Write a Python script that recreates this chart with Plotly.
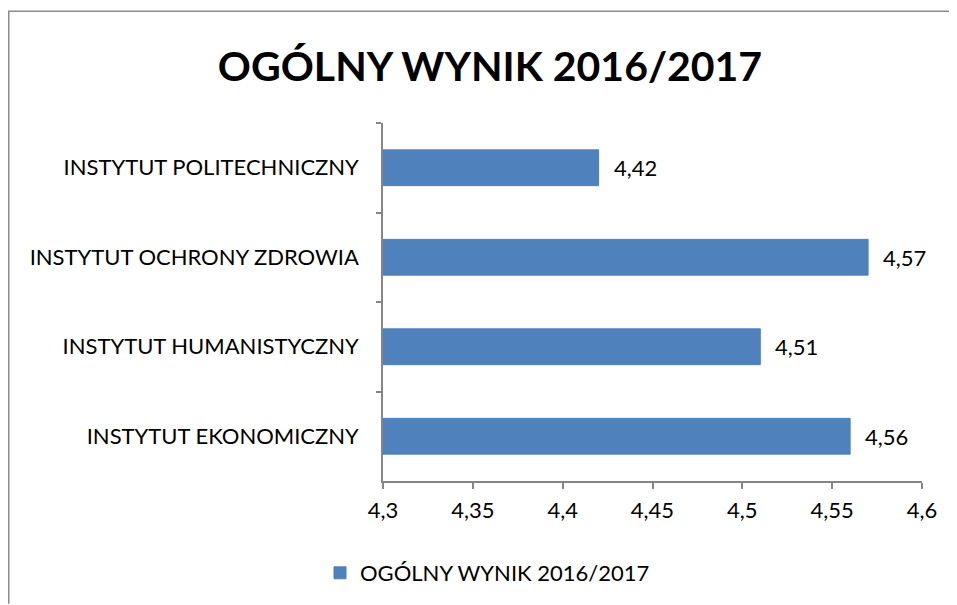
import plotly.graph_objects as go

categories = ["INSTYTUT POLITECHNICZNY", "INSTYTUT OCHRONY ZDROWIA",
              "INSTYTUT HUMANISTYCZNY", "INSTYTUT EKONOMICZNY"]
values = [4.42, 4.57, 4.51, 4.56]
series_name = "OGÓLNY WYNIK 2016/2017"
title_text = "OGÓLNY WYNIK 2016/2017"
x_ticks = [4.3, 4.35, 4.4, 4.45, 4.5, 4.55, 4.6]
x_tick_labels = ["4,3", "4,35", "4,4", "4,45", "4,5", "4,55", "4,6"]

FONT = "Lato"
BAR = "#4F81BD"
GRID = "#868686"

FW, FH = 949, 597
# plot area in figure pixels
L, R, T, B = 375, 914, 115, 474
W, H = R - L, B - T

fig = go.Figure()
fig.add_trace(go.Bar(
    y=categories, x=values, orientation="h",
    name=series_name, marker=dict(color=BAR, line=dict(color=BAR, width=1)),
    width=0.4, showlegend=True,
))

for c, v in zip(categories, values):
    fig.add_annotation(x=v, y=c, xref="x", yref="y", text=f"{v:.2f}".replace(".", ","),
                       showarrow=False, xanchor="left", xshift=13,
                       font=dict(family=FONT, size=22, color="#000"))

bx0 = (0.75 - L) / W
bx1 = (FW - L) / W
by1 = (B - 3) / H
by0 = -(FH - B) / H
fig.add_shape(type="path", xref="paper", yref="paper",
              path=f"M {bx0},{by0} L {bx0},{by1} L {bx1},{by1}",
              line=dict(color="#8c8c8c", width=1.5), layer="below")

fig.update_layout(
    width=FW, height=FH,
    margin=dict(l=L, r=FW - R, t=T, b=FH - B),
    paper_bgcolor="white", plot_bgcolor="white",
    separators=", ",
    title=dict(text=f"<b>{title_text}</b>", x=(482 - L) / W, xref="paper",
               xanchor="center", y=1 - 59 / FH, yanchor="middle",
               font=dict(family=FONT, size=41, color="#000")),
    xaxis=dict(range=[4.3, 4.6], tickvals=x_ticks, ticktext=x_tick_labels,
               showgrid=False, zeroline=False, showline=True, linecolor=GRID, linewidth=1.5,
               ticks="outside", ticklen=6, tickcolor=GRID, tickwidth=1.5, automargin=False,
               tickfont=dict(family=FONT, size=22, color="#000"), ticklabelstandoff=3),
    yaxis=dict(autorange="reversed", type="category", showgrid=False, zeroline=False,
               showline=True, linecolor=GRID, linewidth=1.5, automargin=False,
               ticks="outside", ticklen=5, tickcolor=GRID, tickwidth=1.5,
               tickson="boundaries",
               tickfont=dict(family=FONT, size=22, color="#000"), ticklabelstandoff=18),
    bargap=0.6,
    legend=dict(orientation="h", x=(312 - L) / W, xanchor="left",
                y=-(565 - B) / H, yanchor="middle", xref="paper", yref="paper",
                font=dict(family=FONT, size=22, color="#000"), itemwidth=30),
    showlegend=True,
)
fig.write_html("out.html")
